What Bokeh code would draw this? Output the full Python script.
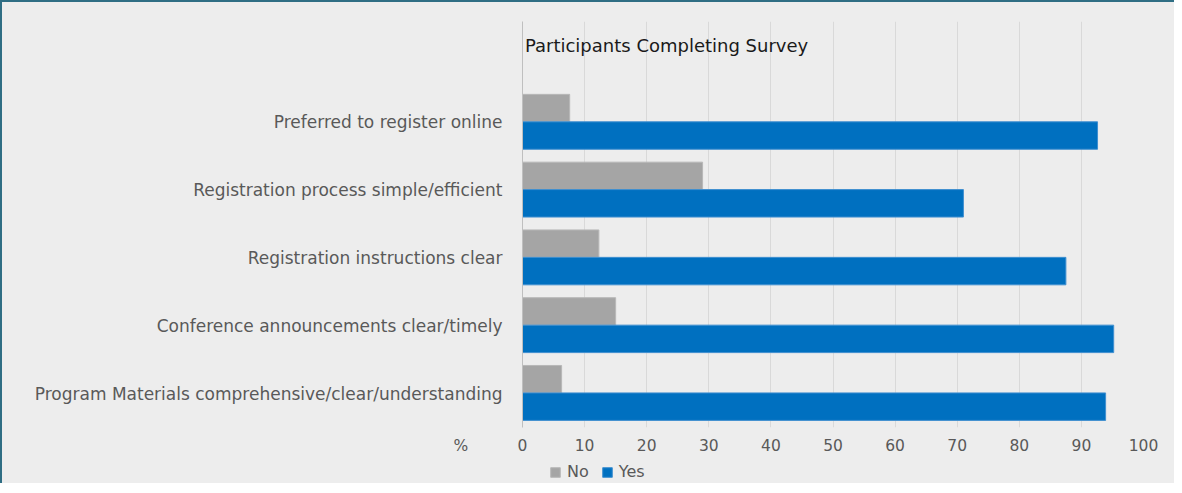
from bokeh.plotting import figure
from bokeh.layouts import column
from bokeh.models import ColumnDataSource, Label, Legend, LegendItem, FixedTicker
from bokeh.embed import file_html
from bokeh.resources import INLINE

# ---- data ----
categories = [
    "Preferred to register online",
    "Registration process simple/efficient",
    "Registration instructions clear",
    "Conference announcements clear/timely",
    "Program Materials comprehensive/clear/understanding",
]
no_values = [7.6, 29.0, 12.3, 15.0, 6.3]
yes_values = [92.6, 71.0, 87.5, 95.2, 93.9]
x_ticks = [0, 10, 20, 30, 40, 50, 60, 70, 80, 90, 100]
series_names = ["No", "Yes"]
title_text = "Participants Completing Survey"
unit_text = "%"

FONT = "DejaVu Sans"
BG = "#EDEDED"
NO_COLOR = "#A5A5A5"
YES_COLOR = "#0070C0"
NO_EDGE = "#B8B8B8"
YES_EDGE = "#3F8FD0"
NBSP = "\u00a0"

n = len(categories)
pos = [n - 1 - i for i in range(n)]  # top-to-bottom
bar_h = 0.405
src = ColumnDataSource(dict(
    cat=categories,
    pos=pos,
    no=no_values,
    yes=yes_values,
    no_y=[p_ + bar_h / 2 + 0.01 for p_ in pos],
    yes_y=[p_ - bar_h / 2 + 0.01 for p_ in pos],
))

W = 1172
p = figure(
    width=W, height=458,
    x_range=(0, 100), y_range=(-0.5, 5.49),
    output_backend="svg", toolbar_location=None,
    min_border_left=520, min_border_right=31,
    min_border_top=19, min_border_bottom=33,
    background_fill_color=BG, border_fill_color=BG,
)
p.outline_line_color = None

p.hbar(y="no_y", right="no", left=0, height=bar_h, source=src,
       fill_color=NO_COLOR, line_color=NO_EDGE, line_width=1)
p.hbar(y="yes_y", right="yes", left=0, height=bar_h, source=src,
       fill_color=YES_COLOR, line_color=YES_EDGE, line_width=1)

# grid
p.xgrid.ticker = FixedTicker(ticks=x_ticks)
p.xgrid.grid_line_color = "#D9D9D9"
p.xgrid.grid_line_width = 1
p.ygrid.grid_line_color = None

# x axis (the unit sign "%" sits to the left of the 0 label)
p.xaxis.ticker = FixedTicker(ticks=x_ticks)
p.xaxis.major_label_overrides = {
    x_ticks[0]: unit_text + NBSP * 10 + str(x_ticks[0]) + NBSP * 13
}
p.xaxis.axis_line_color = None
p.xaxis.major_tick_line_color = None
p.xaxis.major_tick_out = 0
p.xaxis.major_tick_in = 0
p.xaxis.minor_tick_line_color = None
p.xaxis.major_label_text_font = FONT
p.xaxis.major_label_text_font_size = "15.5px"
p.xaxis.major_label_text_color = "#595959"
p.xaxis.major_label_standoff = 9

# y axis
p.yaxis.ticker = FixedTicker(ticks=pos)
p.yaxis.major_label_overrides = {p_: c for p_, c in zip(pos, categories)}
p.yaxis.axis_line_color = "#BFBFBF"
p.yaxis.major_tick_line_color = None
p.yaxis.major_tick_out = 0
p.yaxis.major_tick_in = 0
p.yaxis.minor_tick_line_color = None
p.yaxis.major_label_text_font = FONT
p.yaxis.major_label_text_font_size = "17px"
p.yaxis.major_label_text_color = "#595959"
p.yaxis.major_label_standoff = 20

# title drawn inside the plot area
p.add_layout(Label(x=23.2, y=5.136, text=title_text, text_align="center",
                   text_baseline="middle", text_font=FONT,
                   text_font_size="18px", text_color="#1a1a1a"))

# ---- legend strip under the chart ----
p2 = figure(
    width=W, height=23, x_range=(0, 1), y_range=(0, 1),
    output_backend="svg", toolbar_location=None,
    x_axis_type=None, y_axis_type=None, min_border=0,
    background_fill_color=BG, border_fill_color=BG,
)
p2.outline_line_color = None
p2.grid.grid_line_color = None
# swatch renderers: one off-screen bar each, only their legend glyphs show
swatch = ColumnDataSource(dict(y=[-10], right=[-10], left=[-11]))
k_no = p2.hbar(y="y", right="right", left="left", height=0.5, source=swatch,
               fill_color=NO_COLOR, line_color=NO_EDGE)
k_yes = p2.hbar(y="y", right="right", left="left", height=0.5, source=swatch,
                fill_color=YES_COLOR, line_color=YES_EDGE)
legend = Legend(items=[LegendItem(label=series_names[0], renderers=[k_no]),
                       LegendItem(label=series_names[1], renderers=[k_yes])],
                orientation="horizontal", location=(27, 2),
                background_fill_alpha=0, border_line_color=None,
                padding=0, margin=0, spacing=12, label_standoff=6,
                glyph_width=12, glyph_height=12,
                label_text_font=FONT, label_text_font_size="16px",
                label_text_color="#595959")
p2.add_layout(legend, "center")

layout = column(p, p2, spacing=0,
                styles={"border-left": "2px solid #2F6E84",
                        "border-top": "2px solid #2F6E84",
                        "background-color": BG})

open("out.html", "w").write(file_html(layout, INLINE))
